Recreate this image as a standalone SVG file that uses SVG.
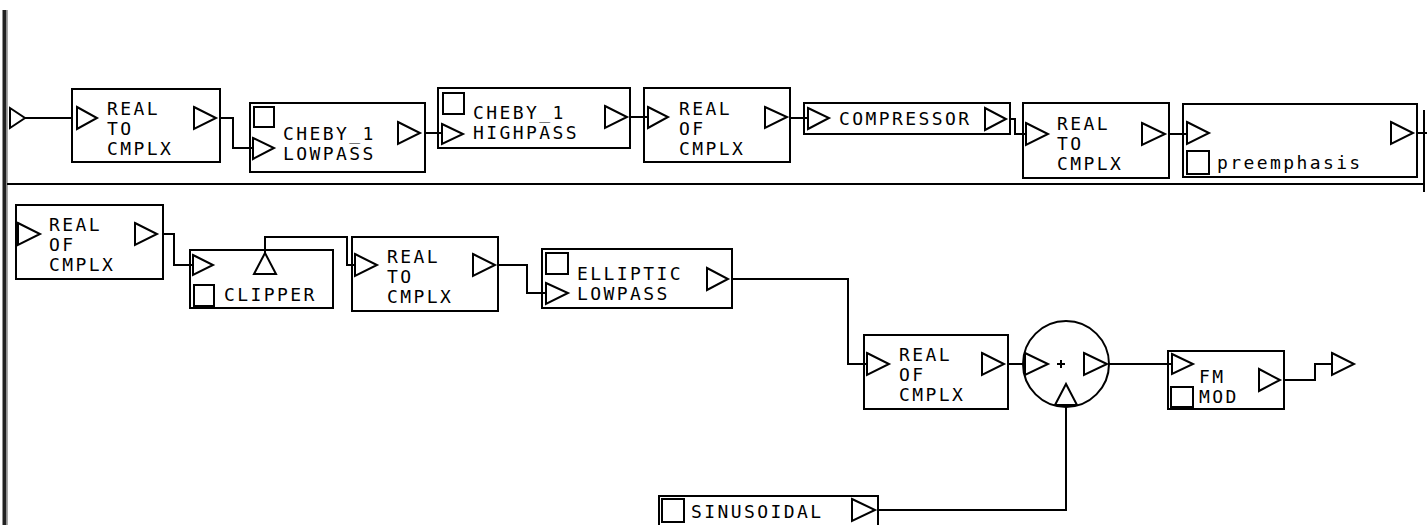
<svg xmlns="http://www.w3.org/2000/svg" width="1427" height="525" viewBox="0 0 1427 525">
<style>
.bx{fill:none;stroke:#000;stroke-width:2}
.pt{fill:none;stroke:#000;stroke-width:2;stroke-linejoin:miter}
.sq{fill:none;stroke:#000;stroke-width:2}
.cn{fill:none;stroke:#000;stroke-width:2}
.t{font-family:"DejaVu Sans Mono","Liberation Mono",monospace;font-size:18px;letter-spacing:2.4px;fill:#000}
</style>
<rect width="1427" height="525" fill="#fff"/>
<g id="frame">
<rect x="2.5" y="10" width="4" height="515" fill="#222"/>
<line x1="7.5" y1="10" x2="7.5" y2="525" stroke="#aaa" stroke-width="1"/>
<line x1="7" y1="184" x2="1425" y2="184" stroke="#000" stroke-width="2"/>
<line x1="1424" y1="110" x2="1424" y2="192" stroke="#000" stroke-width="2"/>
</g>
<g id="connectors">
<polyline class="cn" points="25,118 72,118"/>
<polyline class="cn" points="220,118 233,118 233,148 252,148"/>
<polyline class="cn" points="425,133 442,133"/>
<polyline class="cn" points="630,117 648,117"/>
<polyline class="cn" points="790,118 808,118"/>
<polyline class="cn" points="1010,119 1015,119 1015,134 1026,134"/>
<polyline class="cn" points="1169,134 1187,134"/>
<polyline class="cn" points="1417,133 1427,133"/>
<polyline class="cn" points="163,234 174,234 174,265 193,265"/>
<polyline class="cn" points="265,253 265,237 347,237 347,265 355,265"/>
<polyline class="cn" points="498,265 527,265 527,293 546,293"/>
<polyline class="cn" points="732,279 848,279 848,364 867,364"/>
<polyline class="cn" points="1008,364 1025,364"/>
<polyline class="cn" points="1109,364 1172,364"/>
<polyline class="cn" points="1284,380 1315,380 1315,364 1332,364"/>
<polyline class="cn" points="878,510 1066,510 1066,405"/>
</g>
<g id="in_port"><polygon class="pt" points="10,108 25,118 10,128"/></g>
<g id="real_to_cmplx_1">
<rect class="bx" x="72" y="89" width="148" height="73"/>
<polygon class="pt" points="77,107 97,118 77,129"/>
<polygon class="pt" points="194,107 216,118 194,129"/>
<text class="t" x="107" y="115">REAL</text><text class="t" x="107" y="135">TO</text><text class="t" x="107" y="155">CMPLX</text>
</g>
<g id="cheby_lowpass">
<rect class="bx" x="250" y="103" width="175" height="69"/>
<rect class="sq" x="254" y="107" width="20" height="20"/>
<polygon class="pt" points="253,138 274,148 253,159"/>
<polygon class="pt" points="398,122 420,133 398,144"/>
<text class="t" x="283" y="140">CHEBY_1</text><text class="t" x="283" y="160">LOWPASS</text>
</g>
<g id="cheby_highpass">
<rect class="bx" x="438" y="88" width="192" height="60"/>
<rect class="sq" x="443" y="93" width="21" height="21"/>
<polygon class="pt" points="442,124 463,134 442,144"/>
<polygon class="pt" points="605,106 627,117 605,128"/>
<text class="t" x="473" y="119">CHEBY_1</text><text class="t" x="473" y="139">HIGHPASS</text>
</g>
<g id="real_of_cmplx_1">
<rect class="bx" x="644" y="88" width="146" height="74"/>
<polygon class="pt" points="648,107 668,117 648,128"/>
<polygon class="pt" points="765,107 787,117 765,128"/>
<text class="t" x="679" y="115">REAL</text><text class="t" x="679" y="135">OF</text><text class="t" x="679" y="155">CMPLX</text>
</g>
<g id="compressor">
<rect class="bx" x="804" y="103" width="206" height="31"/>
<polygon class="pt" points="808,108 829,118 808,129"/>
<polygon class="pt" points="985,108 1006,119 985,130"/>
<text class="t" x="839" y="125">COMPRESSOR</text>
</g>
<g id="real_to_cmplx_2">
<rect class="bx" x="1023" y="103" width="146" height="75"/>
<polygon class="pt" points="1026,123 1048,134 1026,145"/>
<polygon class="pt" points="1142,123 1165,134 1142,145"/>
<text class="t" x="1057" y="130">REAL</text><text class="t" x="1057" y="150">TO</text><text class="t" x="1057" y="170">CMPLX</text>
</g>
<g id="preemphasis">
<rect class="bx" x="1183" y="104" width="234" height="73"/>
<polygon class="pt" points="1187,122 1209,133 1187,144"/>
<rect class="sq" x="1187" y="151" width="22" height="23"/>
<polygon class="pt" points="1391,122 1413,133 1391,144"/>
<text class="t" x="1217" y="169">preemphasis</text>
</g>
<g id="real_of_cmplx_2">
<rect class="bx" x="16" y="205" width="147" height="74"/>
<polygon class="pt" points="18,223 40,234 18,245"/>
<polygon class="pt" points="135,223 157,234 135,245"/>
<text class="t" x="49" y="231">REAL</text><text class="t" x="49" y="251">OF</text><text class="t" x="49" y="271">CMPLX</text>
</g>
<g id="clipper">
<rect class="bx" x="190" y="250" width="143" height="58"/>
<polygon class="pt" points="193,255 213,265 193,275"/>
<polygon class="pt" points="254,274 265,253 276,274"/>
<rect class="sq" x="194" y="285" width="20" height="21"/>
<text class="t" x="224" y="301">CLIPPER</text>
</g>
<g id="real_to_cmplx_3">
<rect class="bx" x="352" y="237" width="146" height="74"/>
<polygon class="pt" points="355,254 377,265 355,276"/>
<polygon class="pt" points="473,254 495,265 473,276"/>
<text class="t" x="387" y="263">REAL</text><text class="t" x="387" y="283">TO</text><text class="t" x="387" y="303">CMPLX</text>
</g>
<g id="elliptic_lowpass">
<rect class="bx" x="542" y="249" width="190" height="59"/>
<rect class="sq" x="546" y="253" width="22" height="21"/>
<polygon class="pt" points="546,283 568,293 546,304"/>
<polygon class="pt" points="707,268 728,279 707,290"/>
<text class="t" x="577" y="280">ELLIPTIC</text><text class="t" x="577" y="300">LOWPASS</text>
</g>
<g id="real_of_cmplx_3">
<rect class="bx" x="864" y="335" width="144" height="74"/>
<polygon class="pt" points="867,353 889,364 867,375"/>
<polygon class="pt" points="982,353 1004,364 982,375"/>
<text class="t" x="899" y="361">REAL</text><text class="t" x="899" y="381">OF</text><text class="t" x="899" y="401">CMPLX</text>
</g>
<g id="adder">
<circle class="bx" cx="1066" cy="364" r="43"/>
<polygon class="pt" points="1025,353 1048,364 1025,375"/>
<polygon class="pt" points="1084,353 1107,364 1084,375"/>
<polygon class="pt" points="1055,405 1066,384 1077,405"/>
<path d="M1057,364 H1065 M1061,360 V368" stroke="#000" stroke-width="2"/>
</g>
<g id="fm_mod">
<rect class="bx" x="1168" y="351" width="116" height="58"/>
<polygon class="pt" points="1172,354 1193,364 1172,374"/>
<rect class="sq" x="1171" y="387" width="22" height="20"/>
<polygon class="pt" points="1259,369 1280,380 1259,391"/>
<text class="t" x="1199" y="383">FM</text><text class="t" x="1199" y="403">MOD</text>
</g>
<g id="out_port"><polygon class="pt" points="1332,353 1354,364 1332,375"/></g>
<g id="sinusoidal">
<rect class="bx" x="659" y="496" width="219" height="32"/>
<rect class="sq" x="662" y="499" width="22" height="23"/>
<polygon class="pt" points="852,499 875,510 852,521"/>
<text class="t" x="691" y="518">SINUSOIDAL</text>
</g>
</svg>
